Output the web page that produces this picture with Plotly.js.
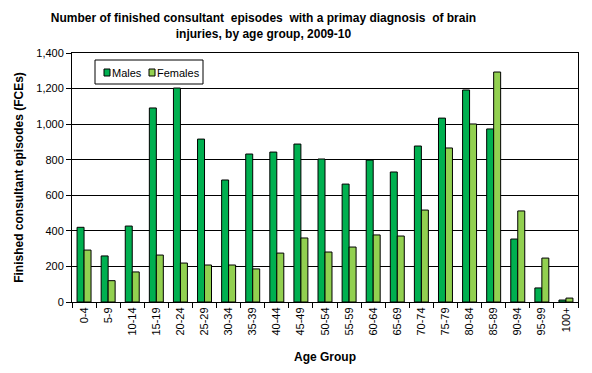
<!DOCTYPE html>
<html><head><meta charset="utf-8">
<script src="https://cdn.plot.ly/plotly-3.0.1.min.js"></script>
<style>html,body{margin:0;padding:0;background:#fff}</style>
</head><body><div id="chart" style="width:592px;height:373px"></div>
<script>
const ageGroups = ["0-4","5-9","10-14","15-19","20-24","25-29","30-34","35-39","40-44","45-49","50-54","55-59","60-64","65-69","70-74","75-79","80-84","85-89","90-94","95-99","100+"];
const males = [420,259,427,1091,1203,916,686,832,843,888,804,663,798,731,877,1034,1192,973,354,79,11];
const females = [292,120,169,264,219,208,208,186,275,360,281,309,377,371,517,866,1001,1293,512,247,22];
const yTicks = [0,200,400,600,800,1000,1200,1400];
const seriesNames = ["Males","Females"];
const seriesColors = ["#00B050","#92D050"];

const font = {family:"Liberation Sans, Arial, sans-serif", color:"#000"};
const traces = [
  {type:"bar", name:seriesNames[0], x:ageGroups, y:males, marker:{color:seriesColors[0], line:{color:"#000", width:1}}},
  {type:"bar", name:seriesNames[1], x:ageGroups, y:females, marker:{color:seriesColors[1], line:{color:"#000", width:1}}}
];

// plot area in pixels: x 72..578, y 53..302
const px = v => (v - 72) / 506;
const py = v => (302 - v) / 249;
const shapes = [
  {type:"rect", xref:"paper", yref:"paper", x0:px(95), x1:px(203), y0:py(84), y1:py(60), line:{color:"#000", width:1}, fillcolor:"#fff", layer:"above"},
  {type:"rect", xref:"paper", yref:"paper", x0:px(104), x1:px(110), y0:py(76), y1:py(69), line:{color:"#000", width:1}, fillcolor:seriesColors[0], layer:"above"},
  {type:"rect", xref:"paper", yref:"paper", x0:px(149), x1:px(155), y0:py(76), y1:py(69), line:{color:"#000", width:1}, fillcolor:seriesColors[1], layer:"above"}
];
const annotations = [
  {xref:"paper", yref:"paper", x:px(110), y:py(72.5), xanchor:"left", yanchor:"middle", showarrow:false, text:seriesNames[0], font:Object.assign({size:11}, font)},
  {xref:"paper", yref:"paper", x:px(155), y:py(72.5), xanchor:"left", yanchor:"middle", showarrow:false, text:seriesNames[1], font:Object.assign({size:11}, font)}
];

const layout = {
  width:592, height:373,
  margin:{l:72, r:14, t:53, b:71},
  paper_bgcolor:"#fff", plot_bgcolor:"#fff",
  font:Object.assign({size:11}, font),
  title:{text:"<b>Number of finished consultant  episodes  with a primay diagnosis  of brain<br>injuries, by age group, 2009-10</b>", x:0.445, xanchor:"center", yref:"container", y:0.94, yanchor:"top", font:Object.assign({size:12}, font)},
  barmode:"group", bargap:0.42, bargroupgap:0,
  showlegend:false,
  shapes:shapes, annotations:annotations,
  xaxis:{type:"category", tickangle:-90, tickson:"boundaries", ticks:"outside", ticklen:5, tickcolor:"#000", showline:true, linecolor:"#000", linewidth:1, mirror:true, showgrid:false,
    tickfont:Object.assign({size:11}, font),
    title:{text:"<b>Age Group</b>", font:Object.assign({size:12}, font), standoff:18}},
  yaxis:{range:[0,1400], tickvals:yTicks, tickformat:",d", ticks:"outside", ticklen:5, tickcolor:"#000", showline:true, linecolor:"#000", linewidth:1, mirror:true,
    showgrid:true, gridcolor:"#000", gridwidth:1, zeroline:false,
    tickfont:Object.assign({size:11}, font),
    title:{text:"<b>Finished consultant episodes (FCEs)</b>", font:Object.assign({size:12}, font), standoff:10}}
};
Plotly.newPlot("chart", traces, layout, {displayModeBar:false, staticPlot:true});
</script></body></html>
